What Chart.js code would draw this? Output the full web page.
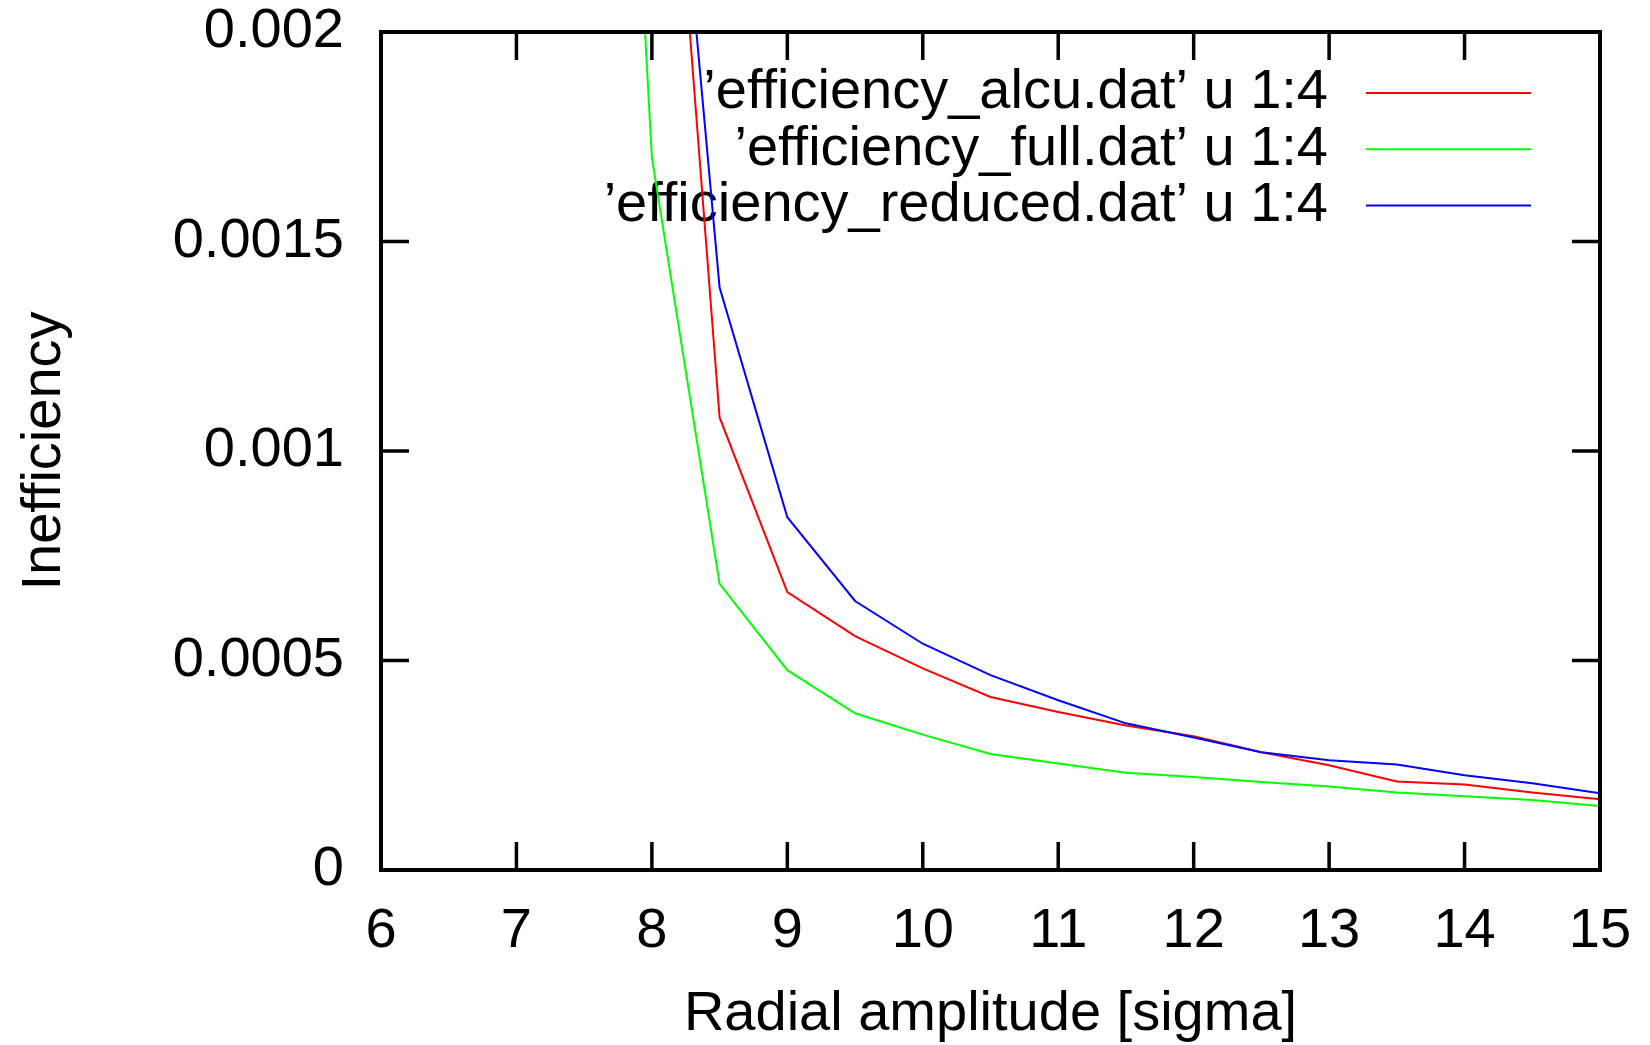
<!DOCTYPE html>
<html>
<head>
<meta charset="utf-8">
<title>Inefficiency vs radial amplitude</title>
<script src="https://cdn.jsdelivr.net/npm/chart.js@4.4.1/dist/chart.umd.min.js"></script>
<style>
    html, body { margin: 0; padding: 0; background: #ffffff; }
    #main-chart { display: block; }
</style>
</head>
<body>
<canvas id="main-chart" width="1650" height="1045"></canvas>
<script>
// radial amplitude [sigma]
const radialAmplitude = [7.5, 8, 8.5, 9, 9.5, 10, 10.5, 11, 11.5, 12, 12.5, 13, 13.5, 14, 14.5, 15];

// column 4 of each .dat file (inefficiency)
const alcuData = [null, 0.00317, 0.00108, 0.000663, 0.000558, 0.000481, 0.000413, 0.000377, 0.000345, 0.000319, 0.000281, 0.00025, 0.000211, 0.000204, 0.000185, 0.000169];
const fullData = [0.00467, 0.0017, 0.000683, 0.000477, 0.000374, 0.000323, 0.000277, 0.000254, 0.000232, 0.000222, 0.00021, 0.000199, 0.000185, 0.000176, 0.000167, 0.000153];
const reducedData = [null, 0.00317, 0.00139, 0.000842, 0.000642, 0.00054, 0.000465, 0.000405, 0.00035, 0.000316, 0.000281, 0.000262, 0.000252, 0.000226, 0.000207, 0.000183];

const seriesLabels = [
    "\u2019efficiency_alcu.dat\u2019 u 1:4",
    "\u2019efficiency_full.dat\u2019 u 1:4",
    "\u2019efficiency_reduced.dat\u2019 u 1:4",
];

const xTickRange = [6, 15];
const yTickRange = [0, 0.002];

const FONT = "'Liberation Sans', Arial, Helvetica, sans-serif";
const FONT_SIZE = 56;

function toPoints(values) {
    return radialAmplitude.map((x, i) => ({ x: x, y: values[i] }));
}

// gnuplot style box with inward ticks on all four sides
const framePlugin = {
    id: "frame",
    afterDatasetsDraw(chart) {
        const { ctx, chartArea, scales } = chart;
        const tickLen = 28;
        ctx.save();
        ctx.strokeStyle = "#000000";
        ctx.lineWidth = 3.5;
        ctx.lineCap = "butt";

        scales.x.ticks.forEach((t) => {
            const px = scales.x.getPixelForValue(t.value);
            ctx.beginPath();
            ctx.moveTo(px, chartArea.bottom);
            ctx.lineTo(px, chartArea.bottom - tickLen);
            ctx.moveTo(px, chartArea.top);
            ctx.lineTo(px, chartArea.top + tickLen);
            ctx.stroke();
        });
        scales.y.ticks.forEach((t) => {
            const py = scales.y.getPixelForValue(t.value);
            ctx.beginPath();
            ctx.moveTo(chartArea.left, py);
            ctx.lineTo(chartArea.left + tickLen, py);
            ctx.moveTo(chartArea.right, py);
            ctx.lineTo(chartArea.right - tickLen, py);
            ctx.stroke();
        });

        ctx.lineWidth = 4;
        ctx.strokeRect(
            chartArea.left,
            chartArea.top,
            chartArea.right - chartArea.left,
            chartArea.bottom - chartArea.top
        );
        ctx.restore();
    },
};

// key in the top right corner: text right aligned, sample line after it
const keyPlugin = {
    id: "gnuplotKey",
    beforeDatasetsDraw(chart) {
        const { ctx } = chart;
        const textRight = 1328;
        const lineStart = 1366;
        const lineEnd = 1531;
        const rowTop = 93;
        const rowStep = 56.3;
        ctx.save();
        ctx.font = FONT_SIZE + "px " + FONT;
        ctx.textAlign = "right";
        ctx.textBaseline = "middle";
        chart.data.datasets.forEach((ds, i) => {
            const y = rowTop + i * rowStep;
            ctx.fillStyle = "#000000";
            ctx.fillText(ds.label, textRight, y);
            ctx.strokeStyle = ds.borderColor;
            ctx.lineWidth = 2;
            ctx.beginPath();
            ctx.moveTo(lineStart, y);
            ctx.lineTo(lineEnd, y);
            ctx.stroke();
        });
        ctx.restore();
    },
};

let efficiencyChart;

function initializeEfficiencyChart() {
    const chartCanvas = document.getElementById("main-chart");
    if (!chartCanvas) {
        return;
    }

    efficiencyChart = new Chart(chartCanvas, {
        type: "line",
        data: {
            datasets: [
                {
                    label: seriesLabels[0],
                    data: toPoints(alcuData),
                    borderColor: "#ff0000",
                    backgroundColor: "#ff0000",
                    borderWidth: 2,
                    pointRadius: 0,
                    fill: false,
                    tension: 0,
                    order: 2,
                },
                {
                    label: seriesLabels[1],
                    data: toPoints(fullData),
                    borderColor: "#00ff00",
                    backgroundColor: "#00ff00",
                    borderWidth: 2,
                    pointRadius: 0,
                    fill: false,
                    tension: 0,
                    order: 1,
                },
                {
                    label: seriesLabels[2],
                    data: toPoints(reducedData),
                    borderColor: "#0000ff",
                    backgroundColor: "#0000ff",
                    borderWidth: 2,
                    pointRadius: 0,
                    fill: false,
                    tension: 0,
                    order: 0,
                },
            ],
        },
        options: {
            responsive: false,
            maintainAspectRatio: false,
            animation: false,
            devicePixelRatio: 1,
            layout: {
                autoPadding: false,
                padding: { top: 32, left: 0, right: 50, bottom: 0 },
            },
            scales: {
                x: {
                    type: "linear",
                    min: xTickRange[0],
                    max: xTickRange[1],
                    grid: { display: false, drawTicks: false },
                    border: { display: false },
                    ticks: {
                        stepSize: 1,
                        padding: 28,
                        color: "#000000",
                        maxRotation: 0,
                        font: { family: FONT, size: FONT_SIZE },
                    },
                    title: {
                        display: true,
                        text: "Radial amplitude [sigma]",
                        color: "#000000",
                        font: { family: FONT, size: FONT_SIZE },
                        padding: { top: 0, bottom: -3 },
                    },
                    afterFit(scale) {
                        scale.height = 175;
                        scale.paddingLeft = 0;
                        scale.paddingRight = 0;
                    },
                },
                y: {
                    type: "linear",
                    min: yTickRange[0],
                    max: yTickRange[1],
                    grid: { display: false, drawTicks: false },
                    border: { display: false },
                    ticks: {
                        stepSize: 0.0005,
                        padding: 37,
                        color: "#000000",
                        font: { family: FONT, size: FONT_SIZE },
                        callback: (v) => String(+Number(v).toFixed(4)),
                    },
                    title: {
                        display: true,
                        text: "Inefficiency",
                        color: "#000000",
                        font: { family: FONT, size: FONT_SIZE },
                        padding: { top: 11, bottom: 0 },
                    },
                    afterFit(scale) {
                        scale.width = 381;
                        scale.paddingTop = 0;
                        scale.paddingBottom = 0;
                    },
                },
            },
            plugins: {
                legend: { display: false },
                tooltip: { enabled: false },
                title: { display: false },
            },
        },
        plugins: [keyPlugin, framePlugin],
    });

    console.log("efficiency chart INITIALIZED", efficiencyChart.chartArea);
}

initializeEfficiencyChart();
</script>
</body>
</html>
